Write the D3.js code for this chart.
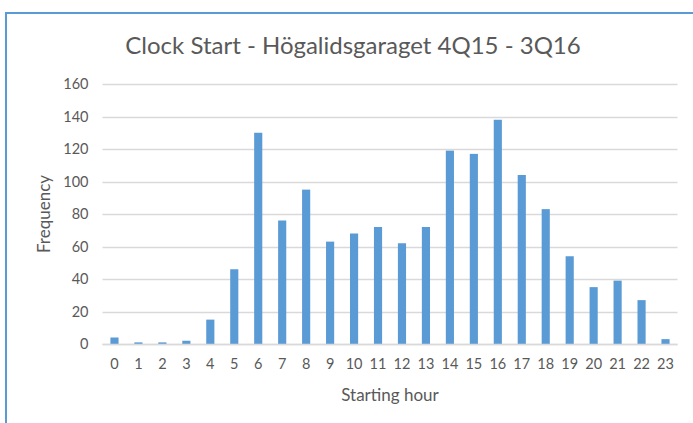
<!DOCTYPE html>
<html>
<head>
<meta charset="utf-8">
<script src="https://cdn.jsdelivr.net/npm/d3@7"></script>
<style>
  body { margin: 0; background: #fff; }
  svg text { font-family: Lato, "Open Sans", sans-serif; fill: #595959; }
</style>
</head>
<body>
<div id="chart"></div>
<script>
// chart values
var hours = d3.range(0, 24).map(String);
var frequency = [4, 1, 1, 2, 15, 46, 130, 76, 95, 63, 68, 72, 62, 72, 119, 117, 138, 104, 83, 54, 35, 39, 27, 3];
var yTicks = [0, 20, 40, 60, 80, 100, 120, 140, 160];

var width = 693, height = 423;
var margin = { top: 84, right: 15, bottom: 79, left: 102.5 };
var chartWidth = 677.5 - margin.left;
var chartHeight = 344 - margin.top;

var svg = d3.select("#chart").append("svg")
    .attr("width", width)
    .attr("height", height);

// selection frame around the chart
svg.append("path")
    .attr("d", "M6,423 V13 H693")
    .attr("fill", "none")
    .attr("stroke", "#5b9bd5")
    .attr("stroke-width", 2);

var chartGroup = svg.append("g")
    .attr("transform", `translate(${margin.left}, ${margin.top})`);

var xScale = d3.scaleBand()
    .domain(hours)
    .range([0, chartWidth])
    .paddingInner(0.66)
    .paddingOuter(0.33);

var yScale = d3.scaleLinear()
    .domain([0, 160])
    .range([chartHeight, 0]);

// gridlines
chartGroup.append("g")
    .selectAll("line")
    .data(yTicks)
    .enter()
    .append("line")
    .attr("x1", 0)
    .attr("x2", chartWidth)
    .attr("y1", d => Math.round(yScale(d)) + 0.5)
    .attr("y2", d => Math.round(yScale(d)) + 0.5)
    .attr("stroke", "#d9d9d9")
    .attr("stroke-width", 1.3);

// bars
chartGroup.selectAll("rect")
    .data(frequency)
    .enter()
    .append("rect")
    .attr("x", (d, i) => xScale(hours[i]))
    .attr("y", d => yScale(d))
    .attr("width", xScale.bandwidth())
    .attr("height", d => chartHeight - yScale(d))
    .attr("fill", "#5b9bd5");

// y axis labels
var yAxis = d3.axisLeft(yScale).tickValues(yTicks).tickSize(0).tickPadding(14);
chartGroup.append("g")
    .call(yAxis)
    .call(g => g.select(".domain").remove())
    .selectAll("text")
    .attr("font-size", "14.5px");

// x axis labels
var xAxis = d3.axisBottom(xScale).tickSize(0).tickPadding(15);
chartGroup.append("g")
    .attr("transform", `translate(0, ${chartHeight})`)
    .call(xAxis)
    .call(g => g.select(".domain").remove())
    .selectAll("text")
    .attr("font-size", "14.5px");

// axis line
chartGroup.append("line")
    .attr("x1", 0)
    .attr("x2", chartWidth)
    .attr("y1", chartHeight + 0.5)
    .attr("y2", chartHeight + 0.5)
    .attr("stroke", "#d9d9d9")
    .attr("stroke-width", 1.3);

// title
svg.append("text")
    .attr("x", 353)
    .attr("y", 54)
    .attr("text-anchor", "middle")
    .attr("font-size", "24px")
    .text("Clock Start - Högalidsgaraget 4Q15 - 3Q16");

// axis titles
svg.append("text")
    .attr("transform", "translate(50, 214) rotate(-90)")
    .attr("text-anchor", "middle")
    .attr("font-size", "17px")
    .text("Frequency");

svg.append("text")
    .attr("x", margin.left + chartWidth / 2)
    .attr("y", 401)
    .attr("text-anchor", "middle")
    .attr("font-size", "17px")
    .text("Starting hour");
</script>
</body>
</html>
